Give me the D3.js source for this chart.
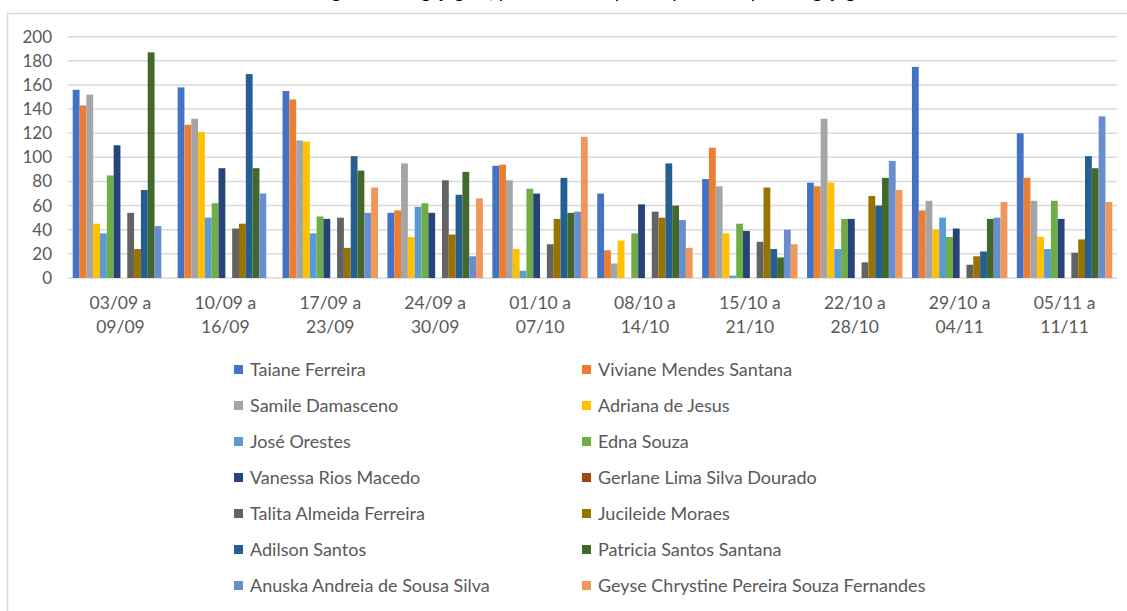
<!DOCTYPE html>
<html>
<head>
<meta charset="utf-8">
<script src="https://cdn.jsdelivr.net/npm/d3@7"></script>
<style>
  body { margin: 0; background: #fff; }
  svg { display: block; font-family: Lato, "Open Sans", sans-serif; }
</style>
</head>
<body>
<svg id="chart" width="1127" height="611"></svg>
<script>
const weeks = ["03/09 a|09/09", "10/09 a|16/09", "17/09 a|23/09", "24/09 a|30/09", "01/10 a|07/10",
  "08/10 a|14/10", "15/10 a|21/10", "22/10 a|28/10", "29/10 a|04/11", "05/11 a|11/11"];

const names = ["Taiane Ferreira", "Viviane Mendes Santana", "Samile Damasceno", "Adriana de Jesus",
  "José Orestes", "Edna Souza", "Vanessa Rios Macedo", "Gerlane Lima Silva Dourado",
  "Talita Almeida Ferreira", "Jucileide Moraes", "Adilson Santos", "Patricia Santos Santana",
  "Anuska Andreia de Sousa Silva", "Geyse Chrystine Pereira Souza Fernandes"];

const colors = ["#4472C4", "#ED7D31", "#A5A5A5", "#FFC000", "#5B9BD5", "#70AD47", "#264478",
  "#9E480E", "#636363", "#997300", "#255E91", "#43682B", "#698ED0", "#F1975A"];

// one array per person, one value per week
const taiane    = [156, 158, 155, 54, 93, 70, 82, 79, 175, 120];
const viviane   = [143, 127, 148, 56, 94, 23, 108, 76, 56, 83];
const samile    = [152, 132, 114, 95, 81, 12, 76, 132, 64, 64];
const adriana   = [45, 121, 113, 34, 24, 31, 37, 79, 40, 34];
const jose      = [37, 50, 37, 59, 6, 0, 2, 24, 50, 24];
const edna      = [85, 62, 51, 62, 74, 37, 45, 49, 34, 64];
const vanessa   = [110, 91, 49, 54, 70, 61, 39, 49, 41, 49];
const gerlane   = [0, 0, 0, 0, 0, 0, 0, 0, 0, 0];
const talita    = [54, 41, 50, 81, 28, 55, 30, 13, 11, 21];
const jucileide = [24, 45, 25, 36, 49, 50, 75, 68, 18, 32];
const adilson   = [73, 169, 101, 69, 83, 95, 24, 60, 22, 101];
const patricia  = [187, 91, 89, 88, 54, 60, 17, 83, 49, 91];
const anuska    = [43, 70, 54, 18, 55, 48, 40, 97, 50, 134];
const geyse     = [0, 0, 75, 66, 117, 25, 28, 73, 63, 63];

const yTicks = [0, 20, 40, 60, 80, 100, 120, 140, 160, 180, 200];

const series = [taiane, viviane, samile, adriana, jose, edna, vanessa, gerlane,
  talita, jucileide, adilson, patricia, anuska, geyse];

const svg = d3.select("#chart");

// outer chart frame (runs off the right / bottom of the picture)
svg.append("rect")
  .attr("x", 7.5).attr("y", 13.5)
  .attr("width", 1130).attr("height", 610)
  .attr("fill", "none").attr("stroke", "#d9d9d9").attr("stroke-width", 1.5);

// title, cut off above the frame like in the source image
svg.append("text")
  .attr("x", 583).attr("y", -2)
  .attr("text-anchor", "middle")
  .attr("font-size", 19).attr("fill", "#000")
  .text("Postagens de engajagem, por semana e por responsável pelo engajagem");

const plotLeft = 68, plotRight = 1117, plotTop = 36.7, plotBottom = 278;

const x0 = d3.scaleBand().domain(weeks).range([plotLeft, plotRight]);
const gap = x0.bandwidth() * 0.09;
const x1 = d3.scaleBand().domain(d3.range(names.length)).range([gap / 2, x0.bandwidth() - gap / 2]);
const y = d3.scaleLinear().domain([0, 200]).range([plotBottom, plotTop]);

// gridlines
svg.append("g")
  .selectAll("line")
  .data(yTicks)
  .join("line")
  .attr("x1", plotLeft).attr("x2", plotRight)
  .attr("y1", d => y(d)).attr("y2", d => y(d))
  .attr("stroke", "#d9d9d9").attr("stroke-width", 1.5);

// y labels
svg.append("g")
  .selectAll("text")
  .data(yTicks)
  .join("text")
  .attr("x", 52).attr("y", d => y(d) + 6)
  .attr("text-anchor", "end")
  .attr("font-size", 17).attr("fill", "#595959")
  .text(d => d);

// bars
const groups = svg.append("g")
  .selectAll("g")
  .data(weeks)
  .join("g")
  .attr("transform", d => "translate(" + x0(d) + ",0)");

groups.selectAll("rect")
  .data((d, i) => series.map((s, j) => ({ j: j, v: s[i] })))
  .join("rect")
  .attr("x", d => x1(d.j))
  .attr("width", x1.bandwidth())
  .attr("y", d => y(d.v))
  .attr("height", d => y(0) - y(d.v))
  .attr("fill", d => colors[d.j]);

// x labels (two lines)
const xl = svg.append("g")
  .selectAll("text")
  .data(weeks)
  .join("text")
  .attr("text-anchor", "middle")
  .attr("font-size", 17.5).attr("fill", "#595959");
xl.each(function(d) {
  const parts = d.split("|");
  const cx = x0(d) + x0.bandwidth() / 2;
  d3.select(this).selectAll("tspan")
    .data(parts)
    .join("tspan")
    .attr("x", cx)
    .attr("y", (p, k) => 309 + k * 24)
    .text(p => p);
});

// legend, two columns
const legend = svg.append("g")
  .selectAll("g")
  .data(names)
  .join("g")
  .attr("transform", (d, i) => "translate(" + (i % 2 === 0 ? 234 : 582) + "," + (370 + Math.floor(i / 2) * 36) + ")");

legend.append("rect")
  .attr("x", 0).attr("y", -5)
  .attr("width", 9).attr("height", 9)
  .attr("fill", (d, i) => colors[i]);

legend.append("text")
  .attr("x", 16).attr("y", 6)
  .attr("font-size", 18).attr("fill", "#595959")
  .text(d => d);
</script>
</body>
</html>
